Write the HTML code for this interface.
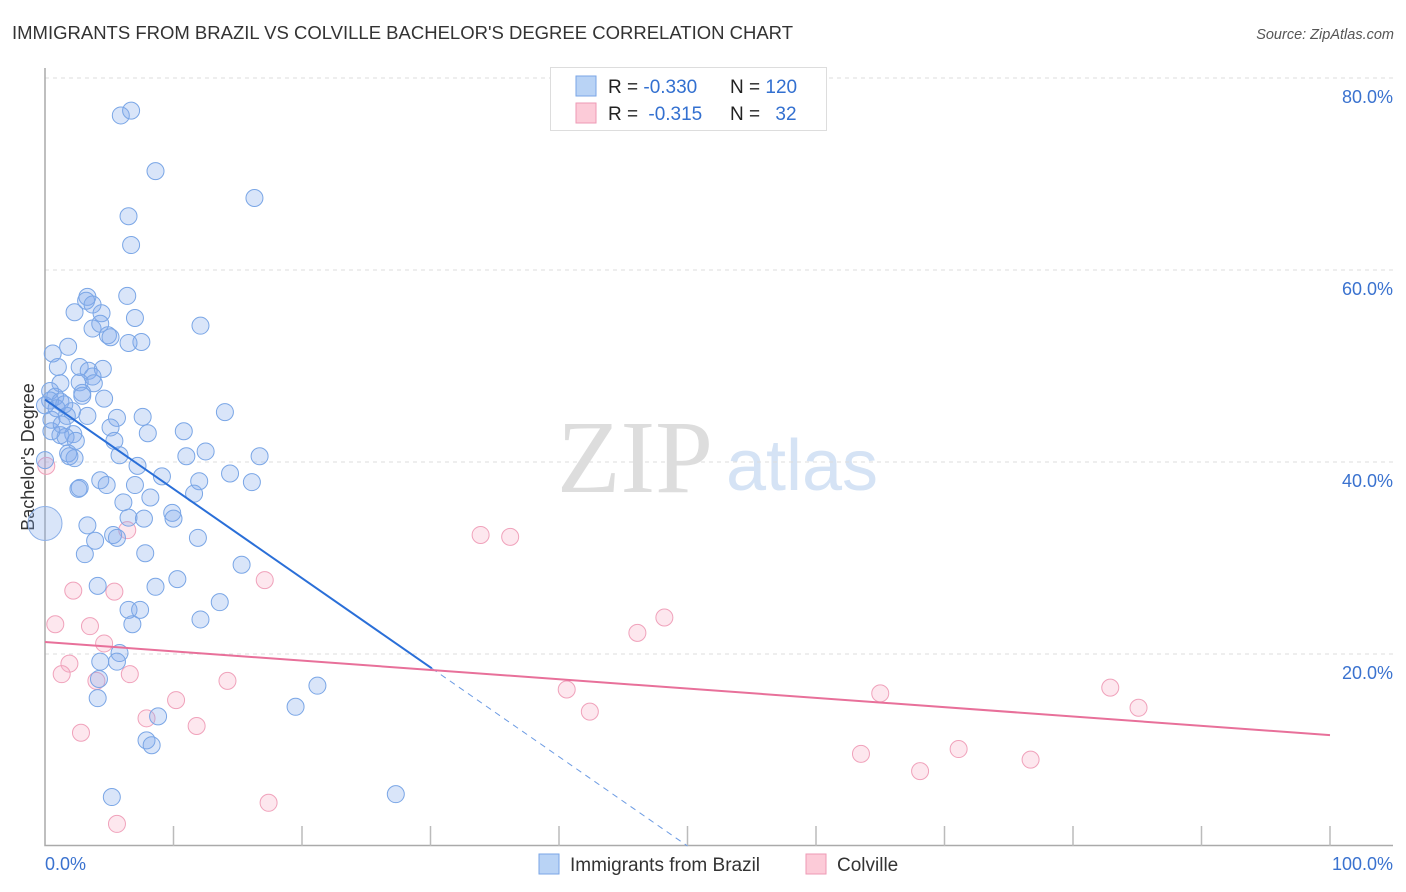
<!DOCTYPE html>
<html><head><meta charset="utf-8">
<style>
body{margin:0;background:#fff;font-family:"Liberation Sans",sans-serif;}
#wrap{position:relative;width:1406px;height:892px;overflow:hidden;}
</style></head>
<body>
<div id="wrap">
<svg id="svg" width="1406" height="892" xmlns="http://www.w3.org/2000/svg">
<text x="12" y="39" font-size="18.5" fill="#333">IMMIGRANTS FROM BRAZIL VS COLVILLE BACHELOR'S DEGREE CORRELATION CHART</text>
<text x="1394" y="39" font-size="14.5" fill="#555" font-style="italic" text-anchor="end">Source: ZipAtlas.com</text>
<text x="34" y="457" font-size="18" fill="#333" text-anchor="middle" transform="rotate(-90 34 457)">Bachelor's Degree</text>
<g>
<text x="635" y="492" font-size="104" fill="#ddd" font-family="Liberation Serif,serif" text-anchor="middle">ZIP</text>
<text x="802" y="490" font-size="72" fill="#d5e3f5" text-anchor="middle">atlas</text>
</g>
<g id="grid"></g>
<g id="axes"></g>
<g id="pts"></g>
<g id="lines"></g>
<g>
<rect x="550.5" y="67.5" width="276" height="63" fill="#fff" stroke="#ddd"/>
<rect x="576" y="76" width="20" height="20" fill="#b9d3f5" stroke="#7aa6e6"/>
<rect x="576" y="103" width="20" height="20" fill="#fccbd8" stroke="#ee9ab5"/>
<text x="608" y="93" font-size="19" fill="#222">R = <tspan fill="#3370d0">-0.330</tspan></text>
<text x="730" y="93" font-size="19" fill="#222">N = <tspan fill="#3370d0">120</tspan></text>
<text x="608" y="120" font-size="19" fill="#222">R = <tspan fill="#3370d0" dx="5">-0.315</tspan></text>
<text x="730" y="120" font-size="19" fill="#222">N = <tspan fill="#3370d0" dx="10">32</tspan></text>
</g>
<g>
<rect x="539" y="854" width="20" height="20" fill="#b9d3f5" stroke="#7aa6e6"/>
<text x="570" y="871" font-size="19" fill="#333">Immigrants from Brazil</text>
<rect x="806" y="854" width="20" height="20" fill="#fccbd8" stroke="#ee9ab5"/>
<text x="837" y="871" font-size="19" fill="#333">Colville</text>
</g>
</svg>
</div>
<script>
const blueX=[5.9,6.7,8.6,16.3,6.5,6.7,6.4,3.3,3.2,3.7,2.3,4.4,7.0,12.1,3.7,4.3,4.9,5.1,7.5,6.5,1.8,0.6,1.0,2.7,3.4,4.5,3.7,1.2,2.7,3.8,0.4,2.9,4.6,0.8,0.4,1.2,0,2.1,5.6,7.6,14.0,3.3,1.7,5.1,2.2,1.2,1.6,8.0,10.8,5.4,2.4,0.5,12.5,5.8,1.8,2.3,1.9,11.0,16.7,7.2,14.4,9.1,4.3,12.0,16.1,2.6,4.8,7.0,2.7,11.6,8.2,6.1,6.5,9.9,10.0,7.7,3.3,3.9,5.3,5.6,11.9,3.1,7.8,15.3,10.3,4.1,8.6,13.6,6.5,7.4,12.1,6.8,5.8,4.3,5.6,4.2,21.2,19.5,4.1,8.8,7.9,8.3,5.2,27.3,0,0.5,1.3,0.9,1.5,2.9];
const blueY=[76.1,76.6,70.3,67.5,65.6,62.6,57.3,57.2,56.8,56.4,55.6,55.5,55.0,54.2,53.9,54.4,53.2,53.0,52.5,52.4,52.0,51.3,49.9,49.9,49.5,49.7,48.9,48.2,48.3,48.2,47.4,47.2,46.6,46.8,46.4,46.3,45.9,45.3,44.6,44.7,45.2,44.8,44.8,43.6,42.9,42.8,42.6,43.0,43.2,42.2,42.2,43.2,41.1,40.7,40.9,40.4,40.6,40.6,40.6,39.6,38.8,38.5,38.1,38.0,37.9,37.2,37.6,37.6,37.3,36.7,36.3,35.8,34.2,34.7,34.1,34.1,33.4,31.8,32.4,32.1,32.1,30.4,30.5,29.3,27.8,27.1,27.0,25.4,24.6,24.6,23.6,23.1,20.1,19.2,19.2,17.4,16.7,14.5,15.4,13.5,11.0,10.5,5.1,5.4,40.2,44.4,43.9,45.6,46.0,46.9];
const bigX=[0], bigY=[33.6];
const pinkX=[0.1,0.8,2.2,5.4,6.4,3.5,4.6,1.9,1.3,4.0,6.6,2.8,10.2,14.2,7.9,11.8,17.1,17.4,5.6,33.9,36.2,46.1,48.2,40.6,42.4,65.0,63.5,68.1,71.1,76.7,82.9,85.1];
const pinkY=[39.6,23.1,26.6,26.5,32.9,22.9,21.1,19.0,17.9,17.2,17.9,11.8,15.2,17.2,13.3,12.5,27.7,4.5,2.3,32.4,32.2,22.2,23.8,16.3,14.0,15.9,9.6,7.8,10.1,9.0,16.5,14.4];
const yTicks=[20,40,60,80];
const yTickLabels=["20.0%","40.0%","60.0%","80.0%"];
const xTicks=[0,10,20,30,40,50,60,70,80,90,100];
const blueFit=[46.5,-0.93];
const pinkFit=[21.25,-0.097];
const X0=45,X1=1330,Y0=846,Y80=78;
const sx=v=>X0+(X1-X0)*v/100;
const sy=v=>Y0-(Y0-Y80)*v/80;
const NS="http://www.w3.org/2000/svg";
function mk(tag,attrs,parent){const e=document.createElementNS(NS,tag);for(const k in attrs)e.setAttribute(k,attrs[k]);document.getElementById(parent).appendChild(e);return e;}
yTicks.forEach((t,i)=>{
  const l=mk('line',{x1:45,x2:1393,y1:sy(t),y2:sy(t),stroke:'#ddd','stroke-dasharray':'4,4'},'grid');
  
  
  const tx=mk('text',{x:1393,y:sy(t)+25,'font-size':18,fill:'#3a72cf','text-anchor':'end'},'grid');
  tx.textContent=yTickLabels[i];
  
  
});
const ax=mk('path',{d:`M45 68 V845.5 H1393`,stroke:'#aaa',fill:'none','stroke-width':1.5},'axes');


xTicks.forEach(t=>{
  if(t===0)return;
  const l=mk('line',{x1:sx(t),x2:sx(t),y1:826,y2:846,stroke:'#bbb','stroke-width':1.5},'axes');
  
  
});
const xl0=mk('text',{x:45,y:870,'font-size':18,fill:'#3a72cf'},'axes');xl0.textContent='0.0%';


const xl1=mk('text',{x:1393,y:870,'font-size':18,fill:'#3a72cf','text-anchor':'end'},'axes');xl1.textContent='100.0%';


function pts(xs,ys,r,fill,stroke,name){
  xs.forEach((x,i)=>{
    const c=mk('circle',{cx:sx(x),cy:sy(ys[i]),r:r,fill:fill,stroke:stroke,'stroke-width':1},'pts');
    
    
  });
}
pts(pinkX,pinkY,8.5,'rgba(248,175,198,0.3)','#f0a2bb','colville-point');
pts(blueX,blueY,8.5,'rgba(130,170,235,0.3)','#7aa6e6','brazil-point');
pts(bigX,bigY,17,'rgba(130,170,235,0.3)','#8cb0e8','brazil-point-large');
const bxEnd=30.1, bxZero=-blueFit[0]/blueFit[1];
const bl=mk('line',{x1:sx(0),y1:sy(blueFit[0]),x2:sx(bxEnd),y2:sy(blueFit[0]+blueFit[1]*bxEnd),stroke:'#2a6fd8','stroke-width':2},'lines');


const bd=mk('line',{x1:sx(bxEnd),y1:sy(blueFit[0]+blueFit[1]*bxEnd),x2:sx(bxZero),y2:sy(0),stroke:'#6c9be3','stroke-width':1,'stroke-dasharray':'6,5'},'lines');


const pl=mk('line',{x1:sx(0),y1:sy(pinkFit[0]),x2:sx(100),y2:sy(pinkFit[0]+pinkFit[1]*100),stroke:'#e8709a','stroke-width':2},'lines');


</script>
</body></html>
